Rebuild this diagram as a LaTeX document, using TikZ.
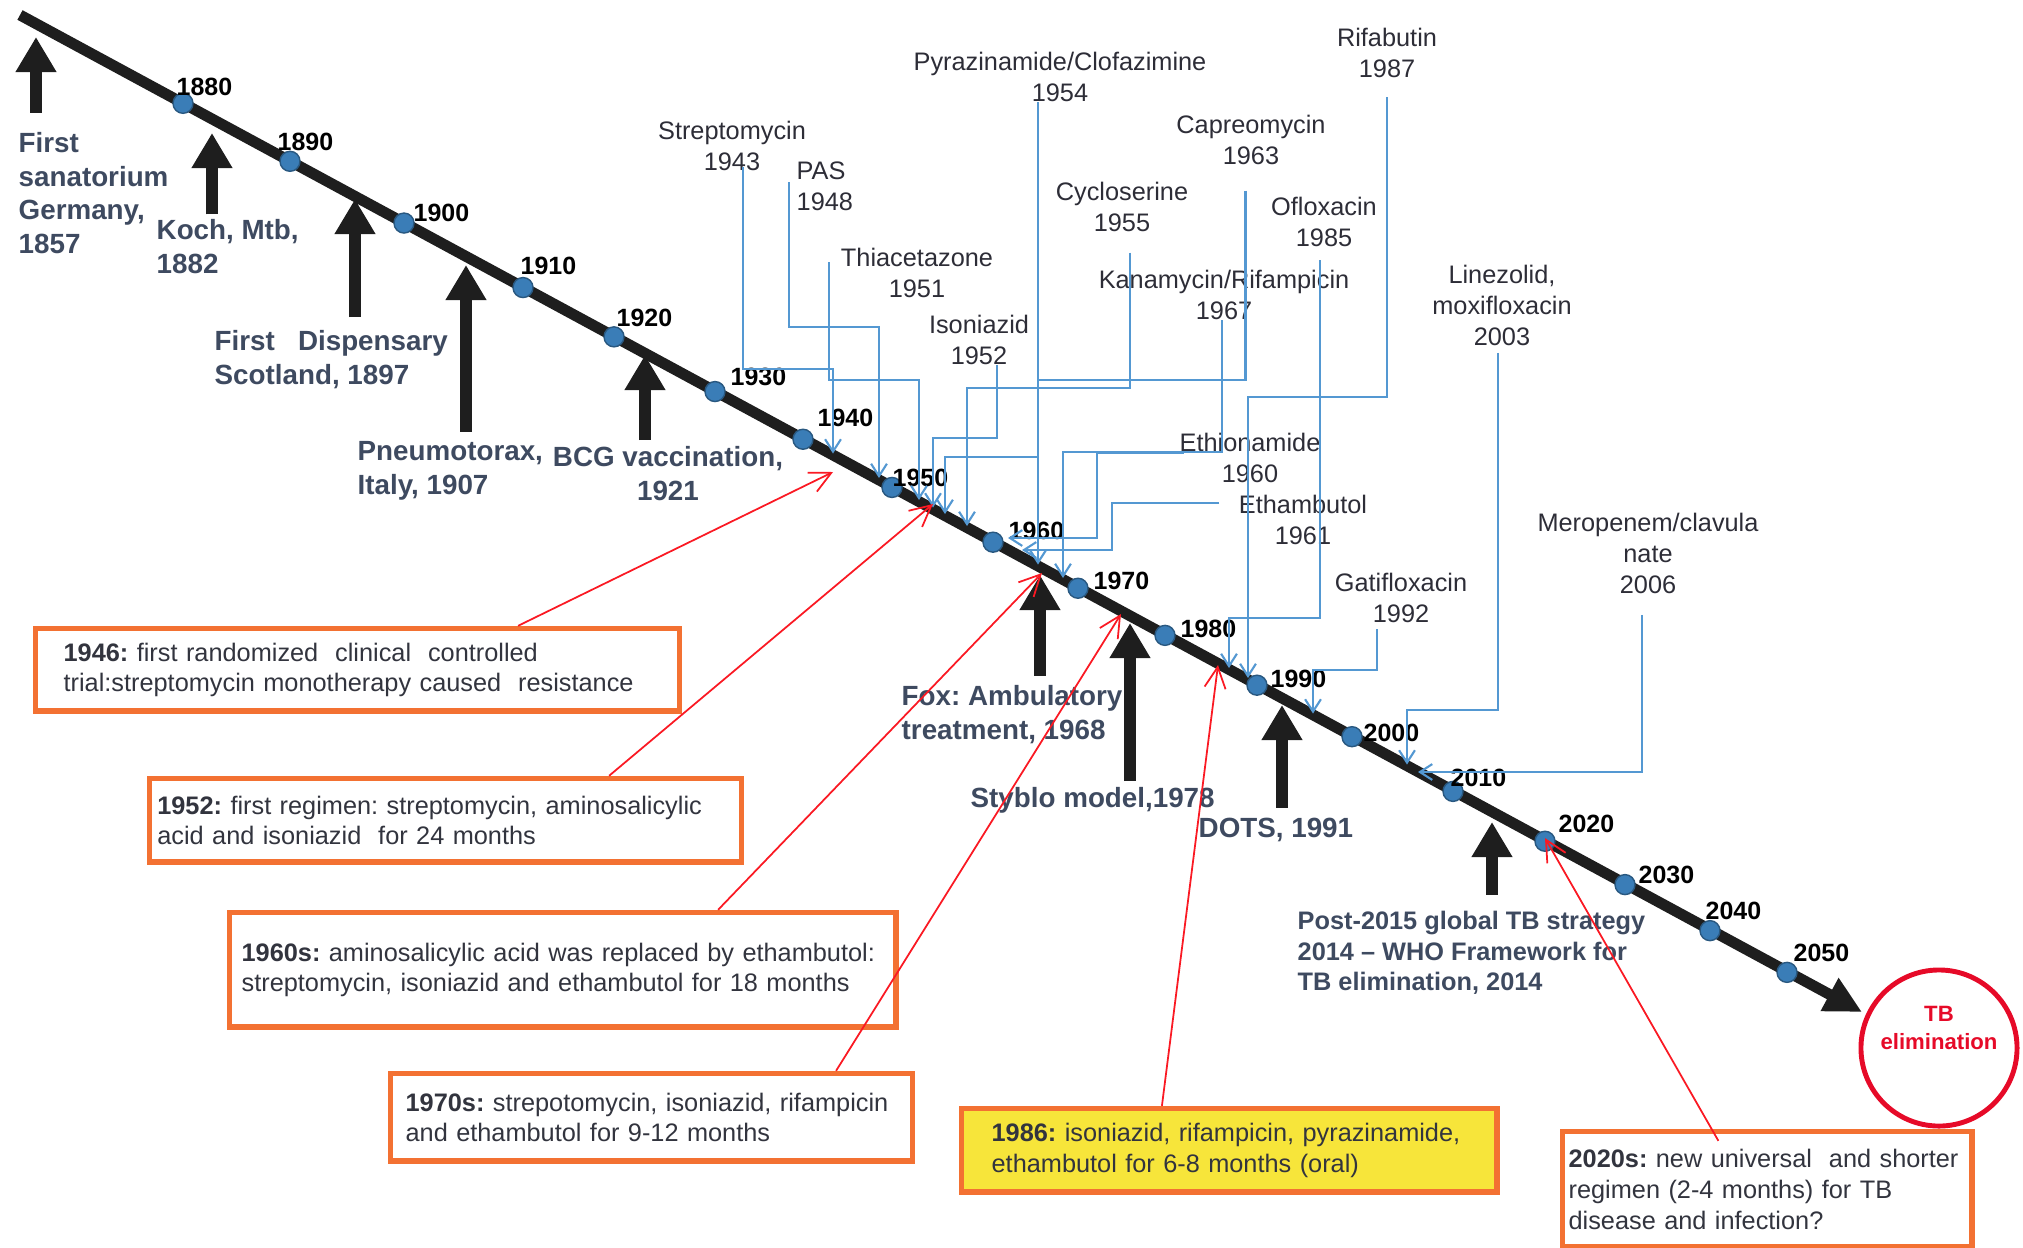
\documentclass[tikz,border=0pt]{standalone}
\usepackage{fontspec}
\setmainfont{Liberation Sans}
\AtBeginDocument{\frenchspacing}
\definecolor{tlblack}{RGB}{30,30,30}
\definecolor{tlblue}{RGB}{58,125,183}
\definecolor{lnblue}{RGB}{84,152,210}
\definecolor{evslate}{RGB}{62,74,96}
\definecolor{drugtext}{RGB}{45,45,55}
\definecolor{boxorange}{RGB}{243,113,50}
\definecolor{boxyellow}{RGB}{247,229,58}
\definecolor{boxtext}{RGB}{50,52,62}
\definecolor{redline}{RGB}{250,25,35}
\definecolor{goalred}{RGB}{230,10,40}
\usetikzlibrary{arrows.meta,calc}

\tikzset{
  drug/.style={font=\fontsize{7.2}{8.8}\selectfont, text=drugtext, align=center, inner sep=0pt},
  drugln/.style={draw=lnblue, line width=0.6pt, -{Straight Barb[length=3.5pt,width=4.5pt]}},
  event/.style={font=\fontsize{7.9}{9.5}\selectfont\bfseries, text=evslate, align=left, inner sep=0pt, anchor=north west},
  evarrow/.style={draw=tlblack, line width=3.2pt, -{Triangle[length=10pt,width=11pt]}, shorten <=2.6pt},
  regbox/.style={draw=boxorange, line width=1.6pt, anchor=north west, align=left, font=\fontsize{7.2}{8.7}\selectfont, text=boxtext},
  redarr/.style={draw=redline, line width=0.5pt, -{Straight Barb[length=6pt,width=6pt]}},
  yeardot/.style={circle, fill=tlblue, draw=tlblue!70!black, line width=0.4pt, minimum size=0.2cm, inner sep=0pt},
  yearlbl/.style={font=\fontsize{7.1}{8}\selectfont\bfseries, text=black, anchor=south west, inner sep=0pt},
  goaltext/.style={font=\fontsize{6.3}{7.7}\selectfont\bfseries, text=goalred, align=center, inner sep=0pt}
}

\begin{document}
\begin{tikzpicture}[x=0.01cm, y=-0.01cm]
  \useasboundingbox (0,0) rectangle (2023,1247);

  % Timeline
  \coordinate (tl-start) at (20,15);
  \coordinate (tl-end) at (1862,1012);
  \draw[draw=tlblack, line width=3.1pt, -{Triangle[length=10.5pt,width=10pt]}] (tl-start) -- (tl-end);

  \foreach \yr/\x/\dx/\dy in {1880/183/-7/-7, 1890/290/-13/-10, 1900/404/9/-1, 1910/523/-3/-12,
      1920/614/2/-9, 1930/715/15/-5, 1940/803/14/-12, 1950/892/0/0, 1960/993/15/-2,
      1970/1078/15/2, 1980/1165/15/3, 1990/1257/13/3, 2000/1352/11/6, 2010/1453/-3/-4,
      2020/1545/13/-8, 2030/1625/13/0, 2040/1710/-5/-10, 2050/1787/6/-10} {
    \node[yeardot] (d\yr) at (\x,{15+(\x-20)*0.5418}) {};
    \node[yearlbl] (y\yr) at ($(d\yr)+(\dx,\dy)$) {\yr};
  }

  %--- Events ---
  \node[event] (san) at (18,132) {First\\sanatorium\\Germany,\\1857};
  \node[event] (koch) at (156,219) {Koch, Mtb,\\1882};
  \node[event] (disp) at (214,330) {First\ \ \ Dispensary\\Scotland, 1897};
  \node[event] (pneu) at (357,441) {Pneumotorax,\\Italy, 1907};
  \node[event, anchor=north, align=center] (bcg) at (668,446) {BCG vaccination,\\1921};
  \node[event] (fox) at (901,685) {Fox: Ambulatory\\treatment, 1968};
  \node[event] (styblo) at (970,787) {Styblo model,1978};
  \node[event] (dots) at (1198,817) {DOTS, 1991};
  \node[event, font=\fontsize{7.2}{8.8}\selectfont\bfseries] (post) at (1297,910) {Post-2015 global TB strategy\\2014 -- WHO Framework for\\TB elimination, 2014};

  \coordinate (a-san) at (36,37);
  \coordinate (a-koch) at (212,133);
  \coordinate (a-disp) at (355,199);
  \coordinate (a-pneu) at (466,265);
  \coordinate (a-bcg) at (645,355);
  \coordinate (a-fox) at (1040,575);
  \coordinate (a-styblo) at (1130,623);
  \coordinate (a-dots) at (1282,705);
  \coordinate (a-post) at (1492,822);

  \draw[evarrow, shorten <=5.5pt] (a-san |- san.north) -- (a-san);
  \draw[evarrow, shorten <=1.3pt] (a-koch |- koch.north) -- (a-koch);
  \draw[evarrow, shorten <=3.7pt] (a-disp |- disp.north) -- (a-disp);
  \draw[evarrow] (a-pneu |- pneu.north) -- (a-pneu);
  \draw[evarrow, shorten <=1.7pt] (a-bcg |- bcg.north) -- (a-bcg);
  \draw[evarrow] (a-fox |- fox.north) -- (a-fox);
  \draw[evarrow, shorten <=1.7pt] (a-styblo |- styblo.north) -- (a-styblo);
  \draw[evarrow] (a-dots |- dots.north) -- (a-dots);
  \draw[evarrow, shorten <=4.3pt] (a-post |- post.north) -- (a-post);

  %--- Drugs ---
  \node[drug] (strep) at (732,146) {Streptomycin\\1943};
  \node[drug, align=left, anchor=west] (pas) at (796,186) {PAS\\1948};
  \node[drug] (pyra) at (1060,77) {Pyrazinamide/Clofazimine\\1954};
  \node[drug] (thia) at (917,273) {Thiacetazone\\1951};
  \node[drug] (iso) at (979,340) {Isoniazid\\1952};
  \node[drug] (cyclo) at (1122,207) {Cycloserine\\1955};
  \node[drug] (capre) at (1251,140) {Capreomycin\\1963};
  \node[drug] (oflox) at (1324,222) {Ofloxacin\\1985};
  \node[drug] (kana) at (1224,295) {Kanamycin/Rifampicin\\1967};
  \node[drug] (rifab) at (1387,53) {Rifabutin\\1987};
  \node[drug] (linez) at (1502,305) {Linezolid,\\moxifloxacin\\2003};
  \node[drug] (ethio) at (1250,458) {Ethionamide\\1960};
  \node[drug] (etham) at (1303,520) {Ethambutol\\1961};
  \node[drug] (gati) at (1401,598) {Gatifloxacin\\1992};
  \node[drug] (mero) at (1648,553) {Meropenem/clavula\\nate\\2006};

  \coordinate (t-strep) at (833,453.5);
  \coordinate (t-pas) at (879,478);
  \coordinate (t-thia) at (919,500);
  \coordinate (t-iso) at (933,507.5);
  \coordinate (t-pyra) at (945,514);
  \coordinate (t-cyclo) at (967,526);
  \coordinate (t-capre) at (1038,564.5);
  \coordinate (t-kana) at (1063,578);
  \coordinate (t-ethio) at (1008,538);
  \coordinate (t-etham) at (1022,550);
  \coordinate (t-oflox) at (1229,668);
  \coordinate (t-rifab) at (1248,678);
  \coordinate (t-gati) at (1313,713.5);
  \coordinate (t-linez) at (1407,764.5);
  \coordinate (t-mero) at (1418,772);

  \draw[drugln] ([xshift=0.11cm,yshift=0.04cm]strep.south) |- (833,369) -- (t-strep);
  \draw[drugln] ([xshift=-0.07cm,yshift=0.04cm]pas.west) |- (879,327) -- (t-pas);
  \draw[drugln] ([xshift=-0.115cm,yshift=0.11cm]thia.west) |- (919,380) -- (t-thia);
  \draw[drugln] ([xshift=0.18cm]iso.south) |- (933,438) -- (t-iso);
  \draw[drugln] ([xshift=-0.22cm]pyra.south) |- (945,457) -- (t-pyra);
  \draw[drugln] ([xshift=-0.055cm,yshift=-0.25cm]capre.south) |- (1038,380) -- (t-capre);
  \draw[drugln] ([xshift=0.08cm,yshift=-0.2cm]cyclo.south) |- (967,388) -- (t-cyclo);
  \draw[drugln] ([xshift=-0.02cm]kana.south) |- (1063,452) -- (t-kana);
  \draw[drugln] ([xshift=0.05cm,yshift=0.05cm]ethio.west) -| (1097,538) -- (t-ethio);
  \draw[drugln] ([xshift=-0.19cm,yshift=0.17cm]etham.west) -| (1112,550) -- (t-etham);
  \draw[drugln] ([xshift=-0.04cm,yshift=-0.13cm]oflox.south) |- (1229,618) -- (t-oflox);
  \draw[drugln] ([yshift=-0.19cm]rifab.south) |- (1248,397) -- (t-rifab);
  \draw[drugln] ([xshift=-0.24cm,yshift=-0.06cm]gati.south) |- (1313,670) -- (t-gati);
  \draw[drugln] ([xshift=-0.04cm,yshift=-0.07cm]linez.south) |- (1407,710) -- (t-linez);
  \draw[drugln] ([xshift=-0.06cm,yshift=-0.21cm]mero.south) |- (t-mero);

  %--- Regimens ---
  \node[regbox, text width=5.874cm, inner xsep=0.28cm, minimum height=0.824cm] (b1946) at (32.8,625.8)
    {\textbf{1946:} first randomized\ \ clinical\ \ controlled\\trial:streptomycin monotherapy caused\ \ resistance};
  \node[regbox, text width=5.76cm, inner xsep=0.077cm, minimum height=0.834cm] (b1952) at (146.8,775.8)
    {\textbf{1952:} first regimen: streptomycin, aminosalicylic\\acid and isoniazid\ \ for 24 months};
  \node[regbox, text width=6.42cm, inner xsep=0.12cm, minimum height=1.144cm] (b1960) at (226.8,909.8)
    {\textbf{1960s:} aminosalicylic acid was replaced by ethambutol:\\streptomycin, isoniazid and ethambutol for 18 months};
  \node[regbox, text width=4.914cm, inner xsep=0.15cm, minimum height=0.874cm] (b1970) at (387.8,1070.8)
    {\textbf{1970s:} strepotomycin, isoniazid, rifampicin\\and ethambutol for 9-12 months};
  \node[regbox, fill=boxyellow, text width=4.75cm, inner xsep=0.30cm, minimum height=0.834cm] (b1986) at (958.8,1105.8)
    {\textbf{1986:} isoniazid, rifampicin, pyrazinamide,\\ethambutol for 6-8 months (oral)};
  \node[regbox, text width=3.97cm, inner xsep=0.06cm, minimum height=1.154cm] (b2020) at (1559.8,1128.8)
    {\textbf{2020s:} new universal\ \ and shorter\\regimen (2-4 months) for TB\\disease and infection?};

  \coordinate (r-1946) at (833,472);
  \coordinate (r-1952) at (933,504);
  \coordinate (r-1960) at (1042,573);
  \coordinate (r-1970) at (1121,614);
  \coordinate (r-1986) at (1218,665);
  \coordinate (r-2020) at (1545,838);

  \draw[redarr] ([xshift=1.605cm]b1946.north) -- (r-1946);
  \draw[redarr] ([xshift=1.635cm]b1952.north) -- (r-1952);
  \draw[redarr] ([xshift=1.552cm]b1960.north) -- (r-1960);
  \draw[redarr] ([xshift=1.845cm]b1970.north) -- (r-1970);
  \draw[redarr] ([xshift=-0.673cm]b1986.north) -- (r-1986);
  \draw[redarr] ([xshift=-0.488cm,yshift=-0.12cm]b2020.north) -- (r-2020);

  % Goal
  \node[circle, draw=goalred, line width=1.4pt, minimum size=1.56cm, inner sep=0pt,
    label={[goaltext, yshift=0.2cm]center:TB\\elimination}] (goal) at (1939,1048) {};
\end{tikzpicture}
\end{document}
